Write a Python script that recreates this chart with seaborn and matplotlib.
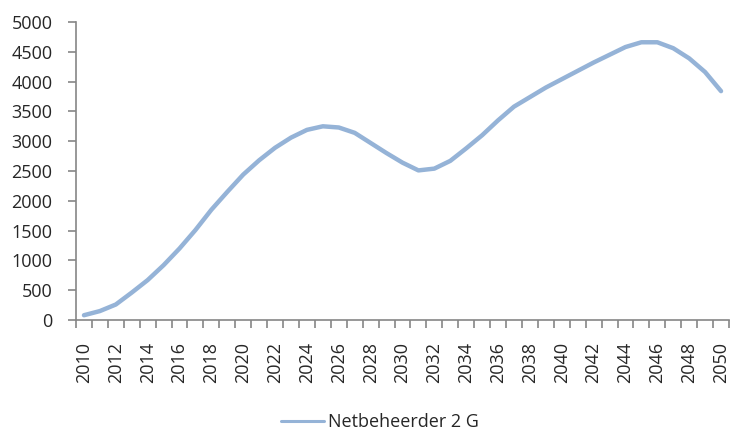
import numpy as np
import matplotlib
matplotlib.use("Agg")
import matplotlib.pyplot as plt
from matplotlib.ticker import MultipleLocator, FixedLocator
import seaborn as sns

sns.set_style("white")
plt.rcParams['font.family'] = ['Open Sans', 'DejaVu Sans']

years = list(range(2010, 2051))
values = [80, 150, 260, 460, 670, 920, 1200, 1510, 1850, 2150,
          2440, 2680, 2890, 3060, 3190, 3250, 3230, 3140, 2970, 2800,
          2640, 2510, 2540, 2670, 2880, 3100, 3350, 3580, 3740, 3900,
          4040, 4180, 4320, 4450, 4580, 4660, 4660, 4560, 4390, 4160,
          3840]
series_name = "Netbeheerder 2 G"
line_color = "#95b3d7"
axis_color = "#868686"

fig = plt.figure(figsize=(7.31, 4.34), dpi=100)
ax = fig.add_axes([76 / 731, 1 - 320 / 434, 653 / 731, 298 / 434])

sns.lineplot(x=years, y=values, color=line_color, linewidth=3.2,
             label=series_name, ax=ax)

ax.set_xlim(2009.5, 2050.5)
ax.set_ylim(0, 5000)
ax.yaxis.set_major_locator(MultipleLocator(500))
ax.xaxis.set_major_locator(FixedLocator(years[::2]))
ax.xaxis.set_minor_locator(FixedLocator(np.arange(2009.5, 2051, 1)))
ax.set_xticklabels([str(y) for y in years[::2]], rotation=90)

for side in ["top", "right"]:
    ax.spines[side].set_visible(False)
for side in ["left", "bottom"]:
    ax.spines[side].set_color(axis_color)
    ax.spines[side].set_linewidth(1.2)

ax.tick_params(axis="y", which="major", length=6, width=1.2, color=axis_color,
               pad=11, labelsize=13, left=True)
ax.tick_params(axis="x", which="major", length=0, pad=16, labelsize=13)
ax.tick_params(axis="x", which="minor", length=6, width=1.2, color=axis_color,
               bottom=True)
ax.set_xlabel("")
ax.set_ylabel("")

handles, labels = ax.get_legend_handles_labels()
ax.get_legend().remove()
leg = fig.legend(handles, labels, loc="center", bbox_to_anchor=(380 / 731, 1 - 422 / 434),
                 frameon=False, fontsize=13, handlelength=2.4, handletextpad=0.25,
                 borderpad=0.2)
for line in leg.get_lines():
    line.set_linewidth(2.2)

fig.savefig("out.png", dpi=100)
